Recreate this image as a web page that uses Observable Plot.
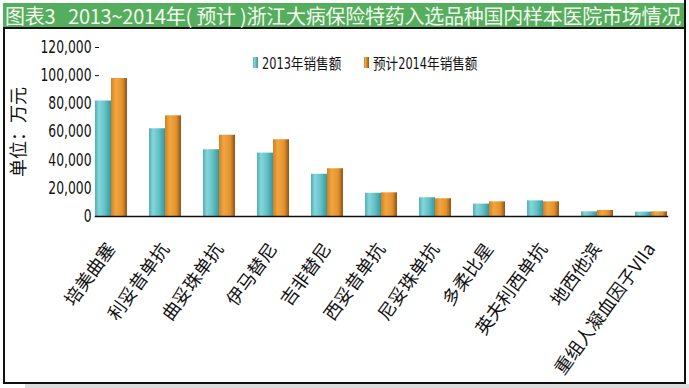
<!DOCTYPE html>
<html>
<head>
<meta charset="utf-8">
<script src="https://cdn.jsdelivr.net/npm/d3@7"></script>
<script src="https://cdn.jsdelivr.net/npm/@observablehq/plot@0.6"></script>
<style>
  html, body { margin: 0; padding: 0; background: #fff; }
  body { width: 689px; height: 388px; position: relative; overflow: hidden; }
  #titlebar { position: absolute; left: 3px; top: 3px; width: 681px; height: 24px; background: #55ae5e; }
  #titletext {
    position: absolute; left: 5px; top: 1px; height: 29px; z-index: 2;
    font-family: "Noto Sans CJK SC", sans-serif; font-size: 20px; line-height: 29px;
    color: #f3faee; white-space: pre;
  }
  #redge { position: absolute; left: 684px; top: 0; width: 2px; height: 28px; background: #111; }
  #box {
    position: absolute; left: 3px; top: 27px; width: 679px; height: 353px;
    border: 2px solid #111; background: transparent;
  }
  #shadow { position: absolute; left: 25px; top: 384px; width: 664px; height: 4px; background: #dcdcdc; }
  #legend {
    position: absolute; left: 248px; top: 23px; display: flex; align-items: center;
    font-family: "Liberation Sans Narrow", "DejaVu Sans Condensed", "Noto Sans CJK SC", sans-serif;
    font-size: 15px; color: #111; white-space: nowrap;
  }
  #legend .item { display: flex; align-items: center; margin-right: 23px; }
  #legend .sw { width: 5px; height: 11px; margin-right: 4px; }
  #legend span { display: inline-block; transform-origin: 0 50%; }
</style>
</head>
<body>
<div id="titlebar"></div>
<div id="redge"></div>
<div id="box"><div id="legend"></div></div>
<div id="titletext"></div>
<div id="shadow"></div>
<script>
const titleText = "图表3   2013~2014年( 预计 )浙江大病保险特药入选品种国内样本医院市场情况";
const categories = ["培美曲塞","利妥昔单抗","曲妥珠单抗","伊马替尼","吉非替尼","西妥昔单抗","尼妥珠单抗","多柔比星","英夫利西单抗","地西他滨","重组人凝血因子VIIa"];
const seriesNames = ["2013年销售额","预计2014年销售额"];
const sales2013 = [82000, 62300, 47400, 45000, 30000, 16500, 13300, 8800, 11100, 3300, 3100];
const sales2014 = [98000, 71500, 57700, 54500, 33900, 16800, 12600, 10400, 10400, 4300, 3300];
const yTicks = [0, 20000, 40000, 60000, 80000, 100000, 120000];
const yLabel = "单位：万元";

const ns = "http://www.w3.org/2000/svg";

// title text, spacing fitted to the bar width
{
  const tt = document.getElementById("titletext");
  tt.textContent = titleText;
  const w = tt.getBoundingClientRect().width;
  const n = [...titleText].length;
  const ls = (676 - w) / n;
  tt.style.letterSpacing = `${ls}px`;
}

const data = categories.flatMap((c, i) => [
  {cat: c, series: seriesNames[0], value: sales2013[i]},
  {cat: c, series: seriesNames[1], value: sales2014[i]}
]);

const narrow = '"Liberation Sans Narrow", "DejaVu Sans Condensed", "Noto Sans CJK SC", sans-serif';

const chart = Plot.plot({
  width: 679,
  height: 353,
  marginLeft: 78,
  marginRight: 6,
  marginTop: 18,
  marginBottom: 166,
  style: {fontFamily: narrow, fontSize: "17px", color: "#111", background: "transparent", overflow: "visible"},
  fx: {domain: categories, paddingInner: 0.41, paddingOuter: 0.2, label: null, axis: "bottom",
       tickRotate: -54, tickSize: 0, tickPadding: 29},
  x: {domain: seriesNames, padding: 0, axis: null},
  y: {domain: [0, 120000], ticks: yTicks, tickFormat: d3.format(",d"), tickSize: -4, tickPadding: 8,
      label: yLabel, labelArrow: "none", labelAnchor: "center", labelOffset: 83},
  color: {domain: seriesNames, range: ["url(#gTeal)", "url(#gOrange)"]},
  marks: [
    Plot.barY(data, {fx: "cat", x: "series", y: "value", fill: "series"}),
    Plot.frame({anchor: "bottom", facet: "super", stroke: "#111", strokeWidth: 1.5})
  ]
});

// gradient defs for the cylinder look
const defs = document.createElementNS(ns, "defs");
function grad(id, stops) {
  const g = document.createElementNS(ns, "linearGradient");
  g.setAttribute("id", id);
  g.setAttribute("x1", "0"); g.setAttribute("x2", "1"); g.setAttribute("y1", "0"); g.setAttribute("y2", "0");
  stops.forEach(([o, c]) => {
    const s = document.createElementNS(ns, "stop");
    s.setAttribute("offset", o); s.setAttribute("stop-color", c);
    g.appendChild(s);
  });
  defs.appendChild(g);
}
grad("gTeal", [["0", "#4fb0b6"], ["0.25", "#86d6d9"], ["0.6", "#62c3c8"], ["1", "#3a969c"]]);
grad("gOrange", [["0", "#d08220"], ["0.3", "#f2a640"], ["0.7", "#e3922c"], ["1", "#8e5418"]]);
chart.insertBefore(defs, chart.firstChild);

// style axis text
chart.querySelectorAll("[aria-label='fx-axis tick label']").forEach(el => {
  el.style.fontFamily = '"Noto Sans CJK SC", sans-serif';
  el.style.fontSize = "18px";
});
chart.querySelectorAll("[aria-label='y-axis label']").forEach(el => {
  el.style.fontFamily = '"Noto Sans CJK SC", sans-serif';
  el.style.fontSize = "18px";
});

document.getElementById("box").appendChild(chart);

// condense y tick labels to the narrow look of the original
{
  const texts = [...chart.querySelectorAll("[aria-label='y-axis tick label'] text")];
  const widest = Math.max(...texts.map(t => t.getComputedTextLength()));
  const f = widest > 0 ? Math.min(1, 51 / widest) : 1;
  texts.forEach(t => {
    t.setAttribute("textLength", t.getComputedTextLength() * f);
    t.setAttribute("lengthAdjust", "spacingAndGlyphs");
  });
}

// legend
const legend = document.getElementById("legend");
const swatch = ["linear-gradient(90deg,#4fb0b6,#86d6d9 30%,#3a969c)", "linear-gradient(90deg,#d08220,#f2a640 30%,#8e5418)"];
seriesNames.forEach((s, i) => {
  const it = document.createElement("div"); it.className = "item";
  const sw = document.createElement("div"); sw.className = "sw"; sw.style.background = swatch[i];
  const t = document.createElement("span"); t.textContent = s;
  it.appendChild(sw); it.appendChild(t); legend.appendChild(it);
});
legend.querySelectorAll("span").forEach(sp => {
  const w = sp.getBoundingClientRect().width;
  const k = 0.84;
  sp.style.transform = `scaleX(${k})`;
  sp.style.marginRight = `${-(1 - k) * w}px`;
});
</script>
</body>
</html>
